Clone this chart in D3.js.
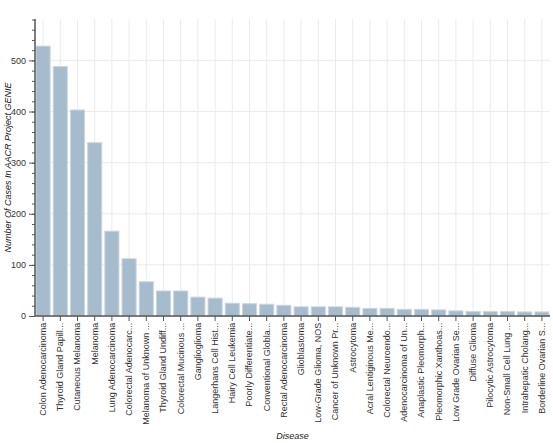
<!DOCTYPE html>
<html>
<head>
<meta charset="utf-8">
<script src="https://cdn.jsdelivr.net/npm/d3@7"></script>
<style>
  body { margin: 0; background: #fff; }
  svg { font-family: "Liberation Sans", Arial, sans-serif; }
  .tick text { fill: #333; font-size: 9px; }
  .grid line { stroke: #ebebeb; stroke-width: 1; }
  .axis-title { font-size: 9px; font-style: italic; fill: #222; }
</style>
</head>
<body>
<svg id="chart"></svg>
<script>
// disease labels as shown on the axis (already truncated in the source)
var diseases = [
  "Colon Adenocarcinoma", "Thyroid Gland Papill...", "Cutaneous Melanoma", "Melanoma",
  "Lung Adenocarcinoma", "Colorectal Adenocarc...", "Melanoma of Unknown ...",
  "Thyroid Gland Undiff...", "Colorectal Mucinous ...", "Ganglioglioma",
  "Langerhans Cell Hist...", "Hairy Cell Leukemia", "Poorly Differentiate...",
  "Conventional Globla...", "Rectal Adenocarcinoma", "Glioblastoma",
  "Low-Grade Glioma, NOS", "Cancer of Unknown Pr...", "Astrocytoma",
  "Acral Lentiginous Me...", "Colorectal Neuroendo...", "Adenocarcinoma of Un...",
  "Anaplastic Pleomorph...", "Pleomorphic Xanthoas...", "Low Grade Ovarian Se...",
  "Diffuse Glioma", "Pilocytic Astrocytoma", "Non-Small Cell Lung ...",
  "Intrahepatic Cholang...", "Borderline Ovarian S..."
]
var cases = [528, 488, 403, 339, 166, 112, 67, 49, 49, 37, 35, 25, 24, 23, 21,
             18, 18, 18, 17, 15, 15, 13, 13, 12, 10, 9, 9, 9, 8, 8]
var yTicks = [0, 100, 200, 300, 400, 500]
var yMax = 581

var width = 553, height = 443
var margin = { top: 19, right: 3, bottom: 127, left: 35 }
var innerW = width - margin.left - margin.right
var innerH = height - margin.top - margin.bottom

var svg = d3.select("#chart").attr("width", width).attr("height", height)
var g = svg.append("g").attr("transform", "translate(" + margin.left + "," + margin.top + ")")

var x = d3.scaleBand().domain(diseases).range([0, innerW]).paddingInner(0.18).paddingOuter(0.06)
var y = d3.scaleLinear().domain([0, yMax]).range([innerH, 0])

// grid
g.append("g").attr("class", "grid")
  .selectAll("line").data(yTicks.slice(1)).enter().append("line")
  .attr("x1", 0).attr("x2", innerW)
  .attr("y1", function(d) { return y(d) }).attr("y2", function(d) { return y(d) })
g.append("g").attr("class", "grid")
  .selectAll("line").data(diseases).enter().append("line")
  .attr("x1", function(d) { return x(d) + x.bandwidth() / 2 })
  .attr("x2", function(d) { return x(d) + x.bandwidth() / 2 })
  .attr("y1", 0).attr("y2", innerH)

// bars
g.append("g").selectAll("rect").data(diseases).enter().append("rect")
  .attr("x", function(d) { return x(d) })
  .attr("width", x.bandwidth())
  .attr("y", function(d, i) { return y(cases[i]) })
  .attr("height", function(d, i) { return innerH - y(cases[i]) })
  .attr("fill", "#a6bccd")
  .attr("stroke", "#c9d7e2")
  .attr("stroke-width", 1)

// y axis: minor ticks every 20
var yAxisMinor = d3.axisLeft(y).tickValues(d3.range(0, yMax, 20)).tickSize(3).tickFormat("")
g.append("g").attr("class", "y-minor").call(yAxisMinor)
  .call(function(s) { s.select(".domain").remove() })
  .selectAll("line").attr("stroke", "#555")

var yAxis = d3.axisLeft(y).tickValues(yTicks).tickSize(6).tickPadding(3)
var ya = g.append("g").call(yAxis)
ya.select(".domain").attr("d", "M0," + innerH + "V0").attr("stroke", "#555").attr("stroke-width", 1.5)
ya.selectAll(".tick line").attr("stroke", "#555").attr("x2", -6).attr("x1", 0)

// x axis
var xAxis = d3.axisBottom(x).tickSize(5).tickPadding(3)
var xa = g.append("g").attr("transform", "translate(0," + innerH + ")").call(xAxis)
xa.select(".domain").attr("d", "M0,0H" + innerW).attr("stroke", "#555").attr("stroke-width", 1.5)
xa.selectAll(".tick line").attr("stroke", "#555")
xa.selectAll(".tick text")
  .attr("transform", "rotate(-90)")
  .attr("text-anchor", "end")
  .attr("dx", "-0.75em")
  .attr("dy", "0.32em")
  .attr("x", 0).attr("y", 0)

// titles
svg.append("text").attr("class", "axis-title")
  .attr("transform", "translate(11," + (margin.top + innerH / 2) + ") rotate(-90)")
  .attr("text-anchor", "middle")
  .text("Number Of Cases In AACR Project GENIE")
svg.append("text").attr("class", "axis-title")
  .attr("x", margin.left + innerW / 2).attr("y", 439)
  .attr("text-anchor", "middle")
  .text("Disease")
</script>
</body>
</html>
